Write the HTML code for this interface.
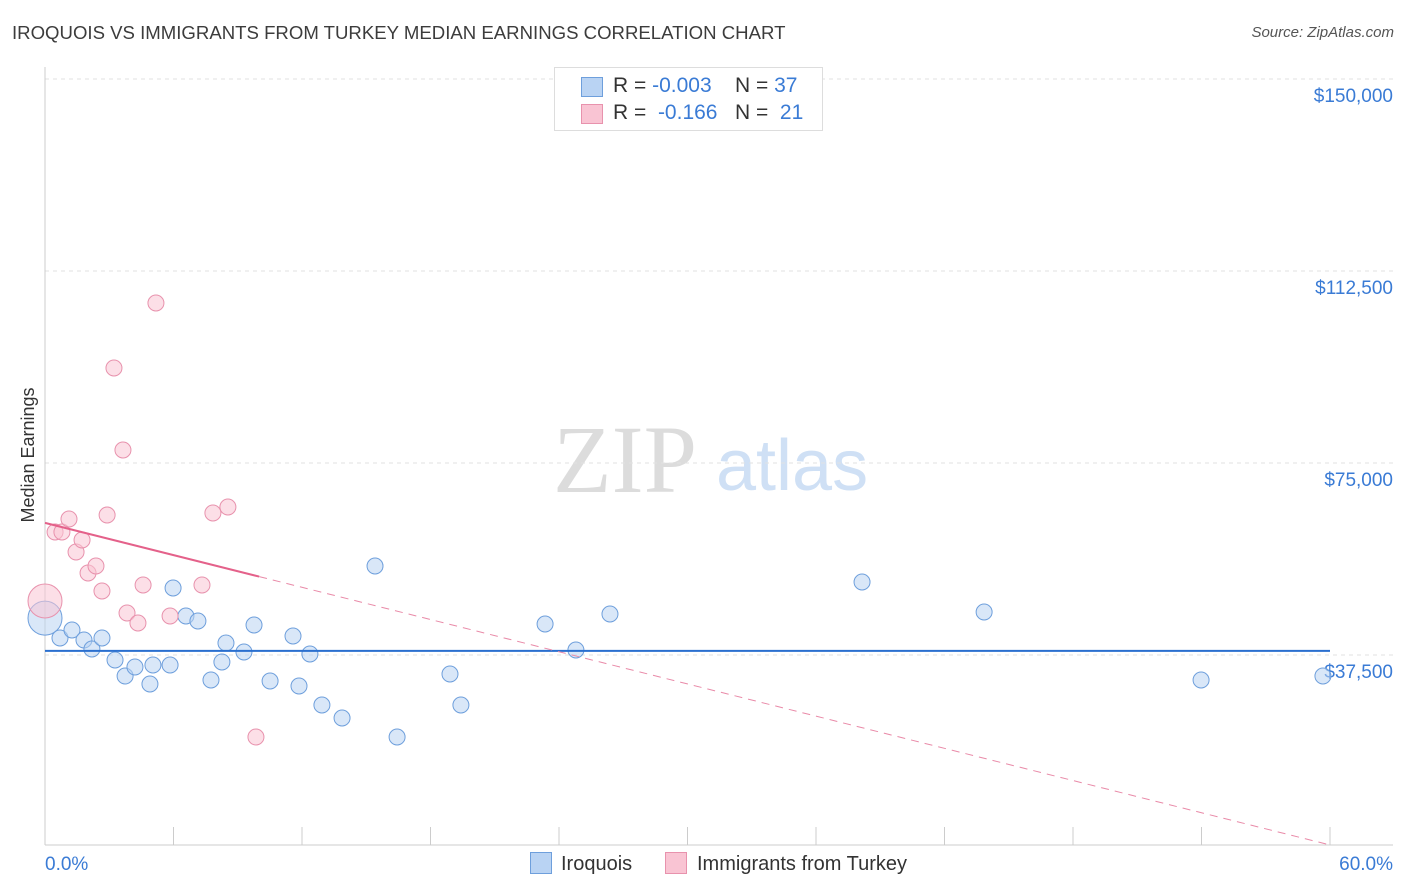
<!DOCTYPE html>
<html><head><meta charset="utf-8"><style>
body{margin:0;background:#fff;font-family:"Liberation Sans",sans-serif;}
#wrap{position:relative;width:1406px;height:892px;overflow:hidden;}
.t{position:absolute;white-space:nowrap;}
</style></head><body>
<div id="wrap">
<div class="t" style="left:12px;top:22px;font-size:18.6px;color:#3c3c3c;">IROQUOIS VS IMMIGRANTS FROM TURKEY MEDIAN EARNINGS CORRELATION CHART</div>
<div class="t" style="right:12px;top:24px;font-size:15px;color:#555;font-style:italic;">Source: ZipAtlas.com</div>
<svg id="plot" width="1406" height="892" style="position:absolute;left:0;top:0"></svg>
</div>
<script>
const xTicks=[0,6,12,18,24,30,36,42,48,54,60];
const yTicks=[37500,75000,112500,150000];
const yTickLabels=["$37,500","$75,000","$112,500","$150,000"];
const iroquoisX=[0,0.70,1.26,1.82,2.19,2.66,3.27,3.74,4.20,4.90,5.04,5.84,5.98,6.58,7.14,7.75,8.26,8.45,9.29,9.76,10.51,11.58,11.86,12.37,12.93,13.87,15.41,16.44,18.91,19.42,23.35,24.79,26.38,38.15,43.85,53.98,59.67];
const iroquoisY=[44700,40820,42383,40430,38672,40820,36523,33398,35156,31836,35547,35547,50586,45117,44141,32617,36133,39844,38086,43359,32422,41211,31445,37695,27734,25195,54883,21484,33789,27734,43555,38477,45508,51758,45898,32617,33398];
const turkeyX=[0,0.47,0.79,1.12,1.45,1.73,2.01,2.38,2.66,2.90,3.22,3.64,3.83,4.34,4.58,5.18,5.84,7.33,7.84,8.54,9.85];
const turkeyY=[48047,61523,61523,64063,57617,59961,53516,54883,50000,64844,93555,77539,45703,43750,51172,106250,45117,51172,65234,66406,21484];
const iroquoisTrend=[38300,38300];
const turkeyTrend=[63300,400];
const turkeySolidEnd=[10];

const X0=45,X1=1330,YB=847,PXPER=192/37500;
const sx=v=>X0+(v/60)*(X1-X0);
const sy=v=>YB-v*PXPER;
const svg=document.getElementById('plot');
const NS='http://www.w3.org/2000/svg';
function mk(tag,attrs){const e=document.createElementNS(NS,tag);for(const k in attrs)e.setAttribute(k,attrs[k]);svg.appendChild(e);return e;}

let w1=mk('text',{x:553,y:492,'font-size':96,'font-family':'Liberation Serif,serif',fill:'#dcdcdc'});w1.textContent='ZIP';


let w2=mk('text',{x:716,y:490,'font-size':72,'font-family':'Liberation Sans,sans-serif',fill:'#cfe0f5'});w2.textContent='atlas';



yTicks.forEach((v,i)=>{
 const g=mk('line',{x1:45,x2:1393,y1:sy(v),y2:sy(v),stroke:'#e2e2e2','stroke-dasharray':'4,4'});
 
 
 const t=mk('text',{x:1393,y:sy(v)+23,'text-anchor':'end','font-size':19,fill:'#3a7bd5'});t.textContent=yTickLabels[i];
 
 
});
let ax=mk('line',{x1:45,x2:45,y1:67,y2:845,stroke:'#ccc'});


let bx=mk('line',{x1:45,x2:1393,y1:845,y2:845,stroke:'#ccc'});


xTicks.forEach(v=>{
 const l=mk('line',{x1:sx(v),x2:sx(v),y1:827,y2:845,stroke:'#ccc'});
 
 
});
let xl0=mk('text',{x:45,y:870,'font-size':19,fill:'#3a7bd5'});xl0.textContent='0.0%';


let xl1=mk('text',{x:1393,y:870,'text-anchor':'end','font-size':19,fill:'#3a7bd5'});xl1.textContent='60.0%';


let yt=mk('text',{x:34,y:455,'text-anchor':'middle','font-size':18,fill:'#333',transform:'rotate(-90 34 455)'});yt.textContent='Median Earnings';



function pts(xs,ys,fill,stroke,name){
 xs.forEach((x,i)=>{
  const r=(x===0)?17:8;
  const c=mk('circle',{cx:sx(x),cy:sy(ys[i]),r:r,fill:fill,'fill-opacity':0.55,stroke:stroke,'stroke-width':1});
  
  
 });
}
pts(iroquoisX,iroquoisY,'#b9d3f3','#6e9fdc','iroquois-point');
pts(turkeyX,turkeyY,'#f9c4d3','#e892ad','turkey-point');

let bt=mk('line',{x1:sx(0),x2:sx(60),y1:sy(iroquoisTrend[0]),y2:sy(iroquoisTrend[1]),stroke:'#2a6fcf','stroke-width':2});


const ty=x=>turkeyTrend[0]+(turkeyTrend[1]-turkeyTrend[0])*x/60;
let pt=mk('line',{x1:sx(0),x2:sx(turkeySolidEnd[0]),y1:sy(ty(0)),y2:sy(ty(turkeySolidEnd[0])),stroke:'#e4618a','stroke-width':2});


let pd=mk('line',{x1:sx(turkeySolidEnd[0]),x2:sx(60),y1:sy(ty(turkeySolidEnd[0])),y2:sy(ty(60)),stroke:'#e98aa8','stroke-width':1,'stroke-dasharray':'8,6'});


</script>

<div class="t" style="left:554px;top:67px;width:267px;height:62px;border:1px solid #ddd;background:#fff;font-size:21px;color:#333;">
 <div style="position:absolute;left:26px;top:9px;width:20px;height:18px;background:#b9d3f3;border:1px solid #6e9fdc"></div>
 <div class="t" style="left:58px;top:6px">R = <span style="color:#3a7bd5">-0.003</span>&nbsp;&nbsp;&nbsp; N = <span style="color:#3a7bd5">37</span></div>
 <div style="position:absolute;left:26px;top:36px;width:20px;height:18px;background:#f9c4d3;border:1px solid #e892ad"></div>
 <div class="t" style="left:58px;top:33px">R = &nbsp;<span style="color:#3a7bd5">-0.166</span>&nbsp;&nbsp; N = &nbsp;<span style="color:#3a7bd5">21</span></div>
</div>

<div class="t" style="left:530px;top:852px;font-size:20px;color:#333;">
 <span style="display:inline-block;width:20px;height:20px;background:#b9d3f3;border:1px solid #6e9fdc;vertical-align:-4px;margin-right:9px"></span>Iroquois</div>
<div class="t" style="left:665px;top:852px;font-size:20px;color:#333;">
 <span style="display:inline-block;width:20px;height:20px;background:#f9c4d3;border:1px solid #e892ad;vertical-align:-4px;margin-right:10px"></span>Immigrants from Turkey</div>
</body></html>
